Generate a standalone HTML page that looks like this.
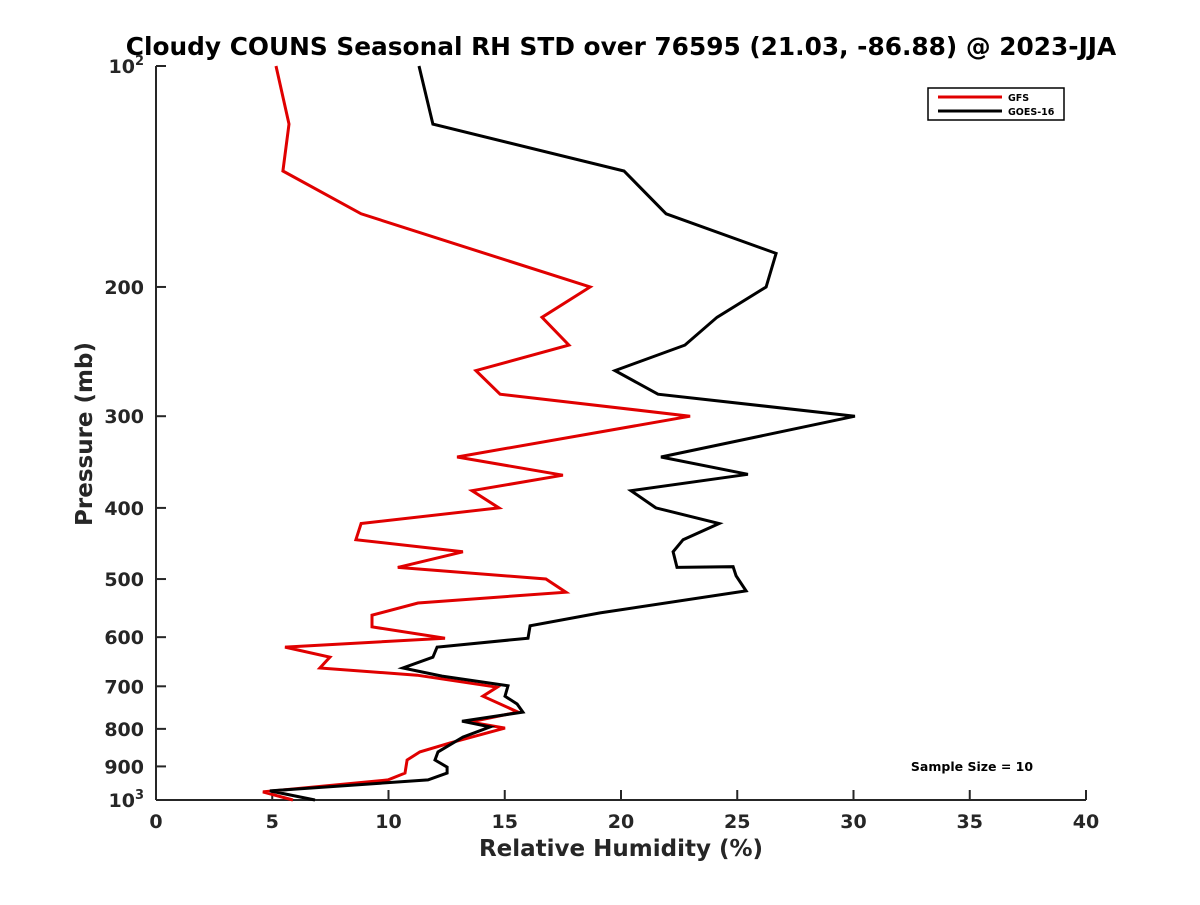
<!DOCTYPE html>
<html><head><meta charset="utf-8"><style>
body{margin:0;background:#fff;}
svg text{font-family:"DejaVu Sans","Liberation Sans",sans-serif;font-weight:bold;fill:#262626;}
</style></head><body>
<svg id="chart" width="1200" height="900">
<rect width="1200" height="900" fill="#fff"/>
<text x="621" y="55" text-anchor="middle" font-size="24.8" style="fill:#000">Cloudy COUNS Seasonal RH STD over 76595 (21.03, -86.88) @ 2023-JJA</text>
<g id="axes"></g>
<g id="series"></g>
<text x="621" y="856" text-anchor="middle" font-size="23">Relative Humidity (%)</text>
<text transform="translate(92,434) rotate(-90)" text-anchor="middle" font-size="23">Pressure (mb)</text>
<text x="972" y="771" text-anchor="middle" font-size="12.5" style="fill:#000">Sample Size = 10</text>
<g>
<rect x="928" y="88" width="136" height="32" fill="#fff" stroke="#000" stroke-width="1.5"/>
<line x1="938" y1="97" x2="1002" y2="97" stroke="#e00000" stroke-width="3"/>
<text x="1008" y="101" font-size="9.5" style="fill:#000">GFS</text>
<line x1="938" y1="111" x2="1002" y2="111" stroke="#000" stroke-width="3"/>
<text x="1008" y="115" font-size="9.5" style="fill:#000">GOES-16</text>
</g>
</svg>
<script>
const xTicks=[0,5,10,15,20,25,30,35,40];
const yTicks=[100,200,300,400,500,600,700,800,900,1000];
const gfsRH=[5.16,5.72,5.46,8.82,18.67,16.6,17.76,13.76,14.8,22.97,12.95,17.5,13.59,14.75,8.82,8.6,13.2,10.4,16.77,17.63,11.27,9.29,9.29,12.43,5.55,7.48,7.05,11.23,14.67,14.06,15.57,13.5,15.01,12.65,11.35,10.8,10.71,9.98,4.6,5.89];
const gfsP=[100,120,139,159,200,220,240,260,280,300,341,361,379,400,420,442,459,482,500,521,539,560,581,602,619,639,661,676,702,722,759,783,798,836,860,882,919,939,975,1000];
const goesRH=[11.31,11.91,20.13,21.94,26.67,26.24,24.13,22.75,19.74,21.59,30.06,21.72,25.46,20.43,21.5,24.22,22.67,22.24,22.41,24.82,24.95,25.38,19.1,16.09,16.0,12.09,11.91,10.62,12.3,15.14,15.01,15.53,15.78,13.16,14.37,13.2,12.13,12.0,12.52,12.52,11.7,4.9,6.84];
const goesP=[100,120,139,159,180,200,220,240,260,280,300,341,360,379,400,420,442,459,482,481,495,519,556,579,602,619,639,661,678,699,722,740,759,781,795,821,860,882,902,919,939,972,1000];
const X0=156,X1=1086,Y0=66,Y1=800;
const xs=v=>X0+(v-0)/40*(X1-X0);
const ys=p=>Y0+(Math.log10(p)-2)*(Y1-Y0);
const NS='http://www.w3.org/2000/svg';
function mk(t,a,parent){const e=document.createElementNS(NS,t);for(const k in a)e.setAttribute(k,a[k]);parent.appendChild(e);return e;}
const ax=document.getElementById('axes');
const xl=mk('line',{x1:X0,y1:Y1,x2:X1,y2:Y1,stroke:'#262626','stroke-width':2},ax);


const yl=mk('line',{x1:X0,y1:Y0,x2:X0,y2:Y1,stroke:'#262626','stroke-width':2},ax);


xTicks.forEach(v=>{
  mk('line',{x1:xs(v),y1:Y1,x2:xs(v),y2:Y1-10,stroke:'#262626','stroke-width':2},ax);
  const t=mk('text',{x:xs(v),y:Y1+28,'text-anchor':'middle','font-size':19},ax);
  t.textContent=v;
  
  
});
yTicks.forEach(p=>{
  mk('line',{x1:X0,y1:ys(p),x2:X0+10,y2:ys(p),stroke:'#262626','stroke-width':2},ax);
  const t=mk('text',{x:X0-12,y:ys(p)+7,'text-anchor':'end','font-size':19},ax);
  if(p===100||p===1000){
    t.textContent='10';
    const s=mk('tspan',{dy:-8,'font-size':13},t);s.textContent=p===100?'2':'3';
  } else t.textContent=p;
  
  
});
const sg=document.getElementById('series');
function line(rh,pr,col,name){
  const pts=rh.map((v,i)=>xs(v).toFixed(1)+','+ys(pr[i]).toFixed(1)).join(' ');
  const pl=mk('polyline',{points:pts,fill:'none',stroke:col,'stroke-width':3,'stroke-linejoin':'miter'},sg);
  
  
}
line(gfsRH,gfsP,'#e00000','gfs-line');
line(goesRH,goesP,'#000','goes16-line');
</script>
</body></html>
